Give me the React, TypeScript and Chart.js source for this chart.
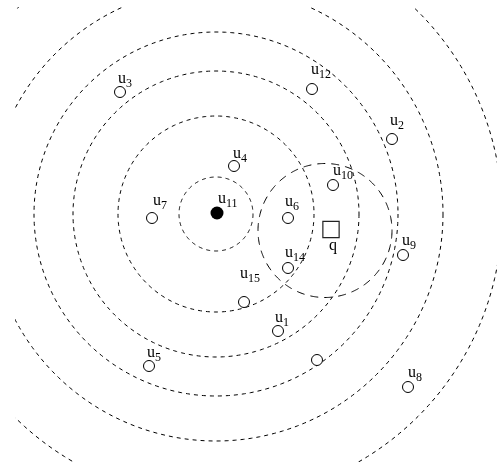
import React, { useEffect, useRef } from "react";
import { Chart, registerables } from "chart.js";

Chart.register(...registerables);

// Concentric dashed rings around u11
const ringCenterX = [216];
const ringCenterY = [214];
const ringRadii = [37, 98, 143, 182, 227, 286];

// Dashed circle around the query q
const queryCircleX = [325];
const queryCircleY = [230.5];
const queryCircleR = [67];

// Open points
const pointNames = ["1", "2", "3", "4", "5", "6", "7", "8", "9", "10", "12", "14", "15", ""];
const pointX = [278, 392, 120, 234, 149, 288, 152, 408, 403, 333, 312, 288, 244, 317];
const pointY = [331, 139, 92, 166, 366, 218, 218, 387, 255, 185, 89, 268, 302, 360];
// label offsets (style only): dx, dy of "u" relative to the point
const labelDX = [-3, -2, -2, -1, -2, -3, 1, 0, -1, 0, -1, -3, -4, 0];
const labelDY = [-9, -14, -9, -8, -9, -12, -13, -10, -10, -10, -15, -11, -24, 0];

// Filled point u11
const centerName = ["11"];
const centerX = [217];
const centerY = [213];

// Query q
const queryName = ["q"];
const queryX = [331];
const queryY = [229.5];

// Visible window of the figure
const xRange = [15, 497];
const yRange = [7, 462];

const SAMPLES = 360;

function ringData(cx: number, cy: number, r: number) {
  const out: { x: number; y: number }[] = [];
  for (let i = 0; i <= SAMPLES; i++) {
    const t = (i / SAMPLES) * Math.PI * 2;
    out.push({ x: cx + r * Math.cos(t), y: cy + r * Math.sin(t) });
  }
  return out;
}

const labelPlugin = {
  id: "uLabels",
  afterDatasetsDraw(chart: any) {
    const ctx = chart.ctx as CanvasRenderingContext2D;
    const xs = chart.scales.x;
    const ys = chart.scales.y;
    ctx.save();
    ctx.fillStyle = "#000";
    ctx.textBaseline = "alphabetic";
    ctx.textAlign = "left";
    const drawU = (px: number, py: number, sub: string) => {
      ctx.font = '16px "Liberation Serif", serif';
      ctx.fillText("u", px, py);
      const w = ctx.measureText("u").width;
      ctx.font = '12px "Liberation Serif", serif';
      ctx.fillText(sub, px + w, py + 4);
    };
    for (let i = 0; i < pointNames.length; i++) {
      if (!pointNames[i]) continue;
      const px = xs.getPixelForValue(pointX[i]);
      const py = ys.getPixelForValue(pointY[i]);
      drawU(px + labelDX[i], py + labelDY[i], pointNames[i]);
    }
    {
      const px = xs.getPixelForValue(centerX[0]);
      const py = ys.getPixelForValue(centerY[0]);
      drawU(px + 1, py - 10, centerName[0]);
    }
    {
      const px = xs.getPixelForValue(queryX[0]);
      const py = ys.getPixelForValue(queryY[0]);
      ctx.font = '16px "Liberation Serif", serif';
      ctx.fillText(queryName[0], px - 2, py + 20.5);
    }
    ctx.restore();
  },
};

export default function App() {
  const ref = useRef<HTMLCanvasElement | null>(null);

  useEffect(() => {
    if (!ref.current) return;
    const datasets: any[] = [];

    datasets.push({
      label: "points",
      data: pointX.map((x, i) => ({ x, y: pointY[i] })),
      pointRadius: 5.5,
      pointBackgroundColor: "#fff",
      pointBorderColor: "#000",
      pointBorderWidth: 1,
      showLine: false,
      order: 0,
      clip: false,
    });
    datasets.push({
      label: "u11",
      data: centerX.map((x, i) => ({ x, y: centerY[i] })),
      pointRadius: 6.5,
      pointBackgroundColor: "#000",
      pointBorderColor: "#000",
      pointBorderWidth: 0,
      showLine: false,
      order: 0,
      clip: false,
    });
    datasets.push({
      label: "q",
      data: queryX.map((x, i) => ({ x, y: queryY[i] })),
      pointStyle: "rect",
      pointRadius: 11.5,
      pointBackgroundColor: "#fff",
      pointBorderColor: "#222",
      pointBorderWidth: 1.2,
      showLine: false,
      order: 0,
      clip: false,
    });
    ringRadii.forEach((r) => {
      datasets.push({
        label: "ring" + r,
        data: ringData(ringCenterX[0], ringCenterY[0], r),
        showLine: true,
        borderColor: "#000",
        borderWidth: 1,
        borderDash: [4, 4],
        pointRadius: 0,
        fill: false,
        tension: 0,
        order: 2,
        clip: 0,
      });
    });
    datasets.push({
      label: "queryCircle",
      data: ringData(queryCircleX[0], queryCircleY[0], queryCircleR[0]),
      showLine: true,
      borderColor: "#000",
      borderWidth: 1,
      borderDash: [8, 6],
      pointRadius: 0,
      fill: false,
      tension: 0,
      order: 1,
      clip: 0,
    });

    const chart = new Chart(ref.current, {
      type: "scatter",
      data: { datasets },
      options: {
        animation: false,
        responsive: false,
        maintainAspectRatio: false,
        devicePixelRatio: 1,
        events: [],
        layout: {
          padding: { left: xRange[0], top: yRange[0], right: 499 - xRange[1], bottom: 468 - yRange[1] },
          autoPadding: false,
        },
        plugins: { legend: { display: false }, tooltip: { enabled: false } },
        scales: {
          x: { type: "linear", min: xRange[0], max: xRange[1], display: false },
          y: { type: "linear", min: yRange[0], max: yRange[1], reverse: true, display: false },
        },
      },
      plugins: [labelPlugin],
    } as any);
    return () => chart.destroy();
  }, []);

  return (
    <div style={{ position: "fixed", left: 0, top: 0, width: 499, height: 468, background: "#fff" }}>
      <canvas ref={ref} width={499} height={468} style={{ display: "block" }} />
    </div>
  );
}
